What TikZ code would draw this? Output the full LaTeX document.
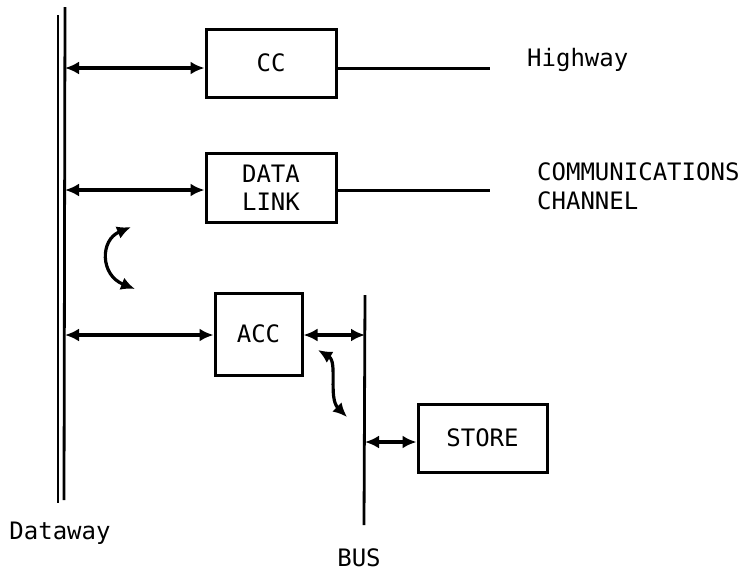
\documentclass[tikz,border=0pt]{standalone}
\usepackage{fontspec}
\setmainfont{DejaVu Sans Mono}
\usetikzlibrary{arrows.meta}
\begin{document}
\begin{tikzpicture}[x=1pt,y=-1pt,
  box/.style={draw,line width=3pt,inner sep=0pt,font=\fontsize{24}{28}\selectfont},
  lbl/.style={inner sep=0pt,font=\fontsize{24}{29}\selectfont},
  dar/.style={line width=3.2pt,{Latex[length=14pt,width=13pt]}-{Latex[length=14pt,width=13pt]}},
  bar/.style={line width=2.8pt},
  wire/.style={line width=3pt}]
\useasboundingbox (0,0) rectangle (750,574);
% dataway lines
\coordinate (dwAtop) at (58,15);
\coordinate (dwAbot) at (58,503);
\coordinate (dwBtop) at (65,7);
\coordinate (dwBbot) at (64,500);
\draw[bar] (dwAtop) -- (dwAbot);
\draw[bar] (dwBtop) -- (dwBbot);
% bus line
\coordinate (bustop) at (365,295);
\coordinate (busbot) at (364,525);
\draw[bar] (bustop) -- (busbot);
% boxes
\node[box,minimum width=130pt,minimum height=68pt] (cc) at (271,63) {CC};
\node[box,minimum width=130pt,minimum height=69pt,align=left] (dl) at (271,187.5) {DATA\\LINK};
\node[box,minimum width=87pt,minimum height=82pt] (acc) at (258.5,334) {ACC};
\node[box,minimum width=129pt,minimum height=68pt] (store) at (482.5,438) {STORE};
% connection points
\coordinate (d1) at (65,68);
\coordinate (d2) at (65,190);
\coordinate (d3) at (65,335);
\coordinate (b1) at (365,335);
\coordinate (b2) at (365,442);
\coordinate (hw) at (490,68);
\coordinate (ch) at (490,190);
\draw[dar] (d1) -- (d1 -| cc.west);
\draw[dar] (d2) -- (d2 -| dl.west);
\draw[dar] (d3) -- (d3 -| acc.west);
\draw[dar] (b1 -| acc.east) -- (b1);
\draw[dar] (b2) -- (b2 -| store.west);
\draw[wire] (hw -| cc.east) -- (hw);
\draw[wire] (ch -| dl.east) -- (ch);
% curved arrows
\coordinate (c1s) at (131,227);
\coordinate (c1e) at (135,289);
\draw[dar] (c1s) .. controls (100,240) and (100,275) .. (c1e);
\coordinate (c2s) at (318,350);
\coordinate (c2e) at (347,417);
\draw[dar] (c2s) .. controls (338,362) and (328,398) .. (c2e);
% labels
\node[lbl,anchor=west] (lhw) at (527,60) {Highway};
\node[lbl,anchor=west,align=left] (lcc) at (537,186) {COMMUNICATIONS\\CHANNEL};
\node[lbl] (ldw) at (60,533) {Dataway};
\node[lbl] (lbus) at (359,558) {BUS};
\end{tikzpicture}
\end{document}
